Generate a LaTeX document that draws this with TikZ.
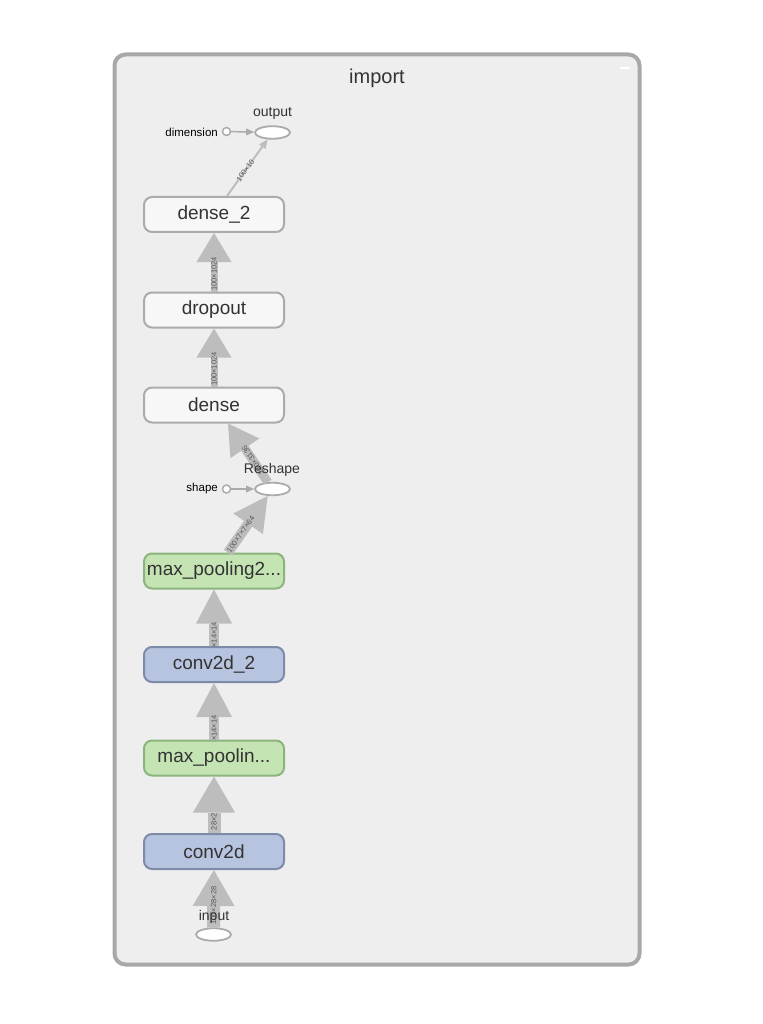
\documentclass[tikz,border=0pt]{standalone}
\usepackage{fontspec}
\setmainfont{Liberation Sans}
\usetikzlibrary{arrows.meta,shapes.geometric}
\definecolor{frame}{HTML}{A8A8A8}
\definecolor{panel}{HTML}{EEEEEE}
\definecolor{opfill}{HTML}{F7F7F7}
\definecolor{opline}{HTML}{ABABAB}
\definecolor{grfill}{HTML}{C5E4B4}
\definecolor{grline}{HTML}{8CB47D}
\definecolor{blfill}{HTML}{B7C4DF}
\definecolor{blline}{HTML}{7E8BA8}
\definecolor{edgec}{HTML}{BDBDBD}
\definecolor{txt}{HTML}{333333}
\definecolor{lbltxt}{HTML}{555555}
\begin{document}
\begin{tikzpicture}[x=1pt,y=-1pt,
 opbox/.style={draw=opline, fill=opfill, line width=2pt, rounded corners=8pt, minimum width=140pt, minimum height=35pt, inner sep=0pt, text=txt, font=\fontsize{19}{19}\selectfont},
 greenbox/.style={opbox, draw=grline, fill=grfill},
 bluebox/.style={opbox, draw=blline, fill=blfill},
 oval/.style={ellipse, draw=opline, fill=white, line width=1.8pt, minimum width=35pt, minimum height=12.5pt, inner sep=0pt},
 constdot/.style={circle, draw=opline, fill=white, line width=1.5pt, minimum size=8pt, inner sep=0pt},
 optext/.style={text=txt, font=\fontsize{14}{14}\selectfont, inner sep=0pt},
 consttext/.style={text=black, font=\fontsize{11.5}{11.5}\selectfont, inner sep=0pt, anchor=east},
 bigflow/.style={draw=edgec, line width=13pt, -{Triangle[width=42pt,length=36pt,line width=0pt]}},
 midflow/.style={draw=edgec, line width=10pt, -{Triangle[width=36pt,length=34pt,line width=0pt]}},
 smallflow/.style={draw=edgec, line width=7pt, -{Triangle[width=35pt,length=29pt,line width=0pt]}},
 thinflow/.style={draw=edgec, line width=2pt, -{Triangle[width=8pt,length=9pt,line width=0pt]}},
 ctrlflow/.style={draw=opline, line width=1.5pt, -{Triangle[width=7pt,length=8pt,line width=0pt]}},
 elbl/.style={text=lbltxt, font=\fontsize{7.5}{7.5}\selectfont, inner sep=0pt, sloped}
]
\useasboundingbox (0,0) rectangle (762,1024);
\fill[white] (0,0) rectangle (762,1024);
\draw[draw=frame, fill=panel, line width=4pt, rounded corners=11pt] (114.5,54.5) rectangle (639.5,964.5);
\draw[white, line width=2pt] (620,68.5) -- (630,68.5);
\node[text=txt, font=\fontsize{20}{20}\selectfont, inner sep=0pt] (title) at (377,78) {import};

% op nodes
\node[opbox] (dense2) at (214,214.5) {dense\_2};
\node[opbox] (dropout) at (214,310) {dropout};
\node[opbox] (dense) at (214,405) {dense};
\node[greenbox] (mp2) at (214,571) {max\_pooling2...};
\node[bluebox] (conv2) at (214,664.5) {conv2d\_2};
\node[greenbox] (mp1) at (214,758) {max\_poolin...};
\node[bluebox] (conv1) at (214,851.5) {conv2d};

% ellipses and constants
\node[oval] (output) at (272.5,132.5) {};
\node[oval] (reshape) at (272.5,489) {};
\node[oval] (input) at (213.5,934.5) {};
\node[constdot] (dim) at (226.5,131.5) {};
\node[constdot] (shape) at (226.5,489) {};
\node[consttext] (dimlbl) at (218,132) {dimension};
\node[consttext] (shapelbl) at (218,489) {shape};

% edges
\draw[bigflow] (input) -- (conv1) node[elbl, pos=.38] {100×28×28};
\draw[bigflow] (conv1) -- (mp1) node[elbl, pos=.2] {28×2};
\draw[midflow] (mp1) -- (conv2) node[elbl, pos=.2] {×14×14};
\draw[midflow] (conv2) -- (mp2) node[elbl, pos=.2] {×14×14};
\draw[midflow] ([xshift=14pt]mp2.north) -- (reshape) node[elbl, pos=.32] {100×7×7×64};
\draw[draw=edgec, line width=9pt, -{Triangle[width=35pt,length=30pt,line width=0pt]}] (reshape) -- ([xshift=14pt]dense.south) node[elbl, pos=.37, rotate=180] {100×3136};
\draw[smallflow] (dense) -- (dropout) node[elbl, pos=.3] {100×1024};
\draw[smallflow] (dropout) -- (dense2) node[elbl, pos=.3] {100×1024};
\draw[thinflow] ([xshift=13pt]dense2.north) -- (output) node[elbl, pos=.45] {100×10};
\draw[ctrlflow] (dim) -- (output);
\draw[ctrlflow] (shape) -- (reshape);

% op labels on top
\node[optext] (outlbl) at (272.5,113) {output};
\node[optext] (reslbl) at (272,470) {Reshape};
\node[optext] (inlbl) at (214,917) {input};
\end{tikzpicture}
\end{document}
